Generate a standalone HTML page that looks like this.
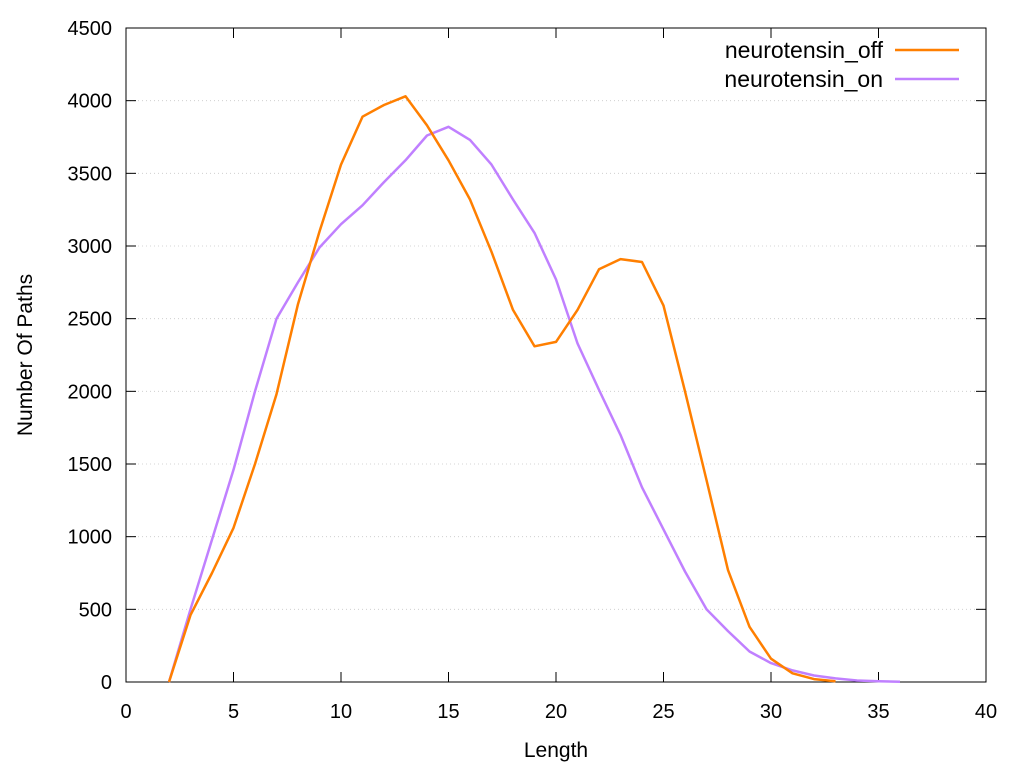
<!DOCTYPE html>
<html><head><meta charset="utf-8"><style>
html,body{margin:0;padding:0;background:#fff;}
svg{display:block;font-family:"Liberation Sans",sans-serif;}
</style></head><body>
<svg id="chart" width="1024" height="768"></svg>
<script>
const xTicks=[0,5,10,15,20,25,30,35,40];
const yTicks=[0,500,1000,1500,2000,2500,3000,3500,4000,4500];
const offX=[2,3,4,5,6,7,8,9,10,11,12,13,14,15,16,17,18,19,20,21,22,23,24,25,26,27,28,29,30,31,32,33];
const offY=[0,460,750,1060,1500,1980,2600,3100,3560,3890,3970,4030,3830,3590,3320,2960,2560,2310,2340,2560,2840,2910,2890,2590,2000,1390,770,380,160,60,20,5];
const onX=[2,3,4,5,6,7,8,9,10,11,12,13,14,15,16,17,18,19,20,21,22,23,24,25,26,27,28,29,30,31,32,33,34,35,36];
const onY=[0,500,980,1460,2000,2500,2750,2990,3150,3280,3440,3590,3760,3820,3730,3560,3320,3090,2770,2330,2010,1700,1340,1050,760,500,350,210,130,80,45,25,10,5,2];

const NS="http://www.w3.org/2000/svg";
const svg=document.getElementById('chart');
const L=126,R=986,T=28,B=682;
const sx=v=>L+(v-0)/40*(R-L);
const sy=v=>B-(v/4500)*(B-T);
function mk(tag,attrs,parent){const e=document.createElementNS(NS,tag);for(const k in attrs)e.setAttribute(k,attrs[k]);(parent||svg).appendChild(e);return e;}

yTicks.forEach(t=>{ if(t===0||t===4500) return;
  const g=mk('line',{x1:L,x2:R,y1:sy(t),y2:sy(t),stroke:'#c8c8c8','stroke-width':0.8,'stroke-dasharray':'1,3'});
  
  
});
const fr=mk('rect',{x:L,y:T,width:R-L,height:B-T,fill:'none',stroke:'#000','stroke-width':1});


xTicks.forEach(t=>{
  mk('line',{x1:sx(t),x2:sx(t),y1:B,y2:B-10,stroke:'#000'});
  mk('line',{x1:sx(t),x2:sx(t),y1:T,y2:T+10,stroke:'#000'});
  const tx=mk('text',{x:sx(t),y:B+36,'text-anchor':'middle','font-size':20});
  tx.textContent=t;
  
  
});
yTicks.forEach(t=>{
  mk('line',{x1:L,x2:L+10,y1:sy(t),y2:sy(t),stroke:'#000'});
  mk('line',{x1:R,x2:R-10,y1:sy(t),y2:sy(t),stroke:'#000'});
  const tx=mk('text',{x:L-14,y:sy(t)+7,'text-anchor':'end','font-size':20});
  tx.textContent=t;
  
  
});
const xt=mk('text',{x:(L+R)/2,y:757,'text-anchor':'middle','font-size':21});
xt.textContent='Length';


const yt=mk('text',{x:0,y:0,'text-anchor':'middle','font-size':21,transform:'translate(32,355) rotate(-90)'});
yt.textContent='Number Of Paths';



function series(xs,ys,color,name){
  const d=xs.map((x,i)=>(i?'L':'M')+sx(x).toFixed(1)+','+sy(ys[i]).toFixed(1)).join(' ');
  const p=mk('path',{d:d,fill:'none',stroke:color,'stroke-width':2.5,'stroke-linejoin':'round'});
  
  
}
series(onX,onY,'#c080ff','series-neurotensin-on');
series(offX,offY,'#ff7f00','series-neurotensin-off');

const lg=[['neurotensin_off','#ff7f00',50],['neurotensin_on','#c080ff',79]];
lg.forEach(([n,c,y])=>{
  const t=mk('text',{x:883,y:y+8,'text-anchor':'end','font-size':23});
  t.textContent=n;
  
  
  const l=mk('line',{x1:895,x2:959,y1:y,y2:y,stroke:c,'stroke-width':2.5});
  
  
});
</script>
</body></html>
